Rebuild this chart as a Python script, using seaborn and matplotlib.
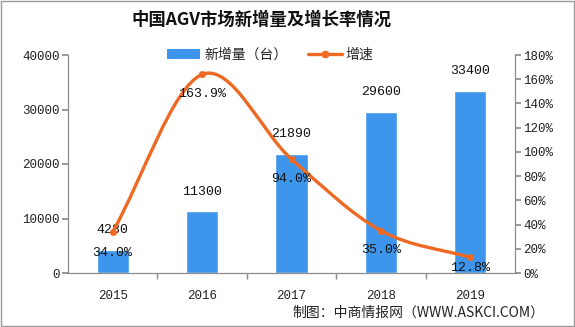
import matplotlib
matplotlib.use("Agg")
import matplotlib.pyplot as plt
import seaborn as sns
import pandas as pd
import numpy as np
from matplotlib.path import Path
from matplotlib.patches import PathPatch, Rectangle
from matplotlib.lines import Line2D
from matplotlib.ticker import FuncFormatter, MultipleLocator

years = ["2015", "2016", "2017", "2018", "2019"]
new_units = [4280, 11300, 21890, 29600, 33400]
growth = [34.0, 163.9, 94.0, 35.0, 12.8]
growth_labels = ["34.0%", "163.9%", "94.0%", "35.0%", "12.8%"]

BLUE = "#3D96EC"
ORANGE = "#EE6A24"
GRAY = "#8C8C8C"

sns.set_theme(style="white")
plt.rcParams["font.family"] = ["Noto Sans CJK SC", "DejaVu Sans"]

fig = plt.figure(figsize=(5.75, 3.27), dpi=100)
ax = fig.add_axes([68/575, 54/327, (515-68)/575, (273-55)/327])

df = pd.DataFrame({"year": years, "units": new_units, "growth": growth})
sns.barplot(data=df, x="year", y="units", color=BLUE, width=0.36,
            saturation=1, ax=ax, zorder=2)
ax.set_ylim(0, 40000)
ax.set_xlim(-0.5, 4.5)
ax.yaxis.set_major_locator(MultipleLocator(10000))
ax.set_xlabel("")
ax.set_ylabel("")

ax2 = ax.twinx()
ax2.set_ylim(0, 180)
ax2.yaxis.set_major_locator(MultipleLocator(20))
ax2.yaxis.set_major_formatter(FuncFormatter(lambda v, p: f"{int(v)}%"))

# smooth curve (cubic Bezier through the data points)
xs = np.arange(len(growth), dtype=float)
ys = np.array(growth, dtype=float)
n = len(xs)
tx = np.zeros(n); ty = np.zeros(n)
for i in range(n):
    a = max(i - 1, 0); b = min(i + 1, n - 1)
    tx[i] = (xs[b] - xs[a]) / (b - a)
    ty[i] = (ys[b] - ys[a]) / (b - a)
verts = [(xs[0], ys[0])]
codes = [Path.MOVETO]
for i in range(n - 1):
    verts += [(xs[i] + tx[i]/3, ys[i] + ty[i]/3),
              (xs[i+1] - tx[i+1]/3, ys[i+1] - ty[i+1]/3),
              (xs[i+1], ys[i+1])]
    codes += [Path.CURVE4] * 3
ax2.add_patch(PathPatch(Path(verts, codes), facecolor="none",
                        edgecolor=ORANGE, lw=2.4, zorder=3))
sns.scatterplot(x=xs, y=ys, ax=ax2, color=ORANGE, s=22, edgecolor=ORANGE,
                zorder=4, legend=False)
ax2.set_xlim(-0.5, 4.5)
ax2.set_ylabel("")

mono = ["Liberation Mono", "DejaVu Sans Mono"]
for i, v in enumerate(new_units):
    ax.annotate(str(v), (i, v), xytext=(0, 10), textcoords="offset points",
                ha="center", va="bottom", fontsize=9.5, color="#111111",
                family=mono, zorder=5)
offs = [-20, -19, -19, -19, -10]
for i, (v, lab) in enumerate(zip(growth, growth_labels)):
    ax2.annotate(lab, (i, v), xytext=(0, offs[i] * 0.75),
                 textcoords="offset points", ha="center", va="center",
                 fontsize=9.5, color="#111111", family=mono, zorder=5)

for a in (ax, ax2):
    for s in a.spines.values():
        s.set_color(GRAY)
        s.set_linewidth(0.9)
    a.spines["top"].set_visible(False)
ax.spines["right"].set_visible(False)
ax2.spines["left"].set_visible(False)
ax2.spines["bottom"].set_visible(False)

ax.tick_params(axis="y", which="both", left=True, length=4, color=GRAY,
               labelsize=9, labelcolor="#222222", pad=2)
ax2.tick_params(axis="y", right=True, length=4, color=GRAY,
                labelsize=9, labelcolor="#222222", pad=2)
ax.set_xticks(range(5))
ax.set_xticklabels(years)
ax.set_xticks([0.5, 1.5, 2.5, 3.5], minor=True)
ax.tick_params(axis="x", which="major", bottom=False, labelsize=9,
               labelcolor="#222222", pad=6)
ax.tick_params(axis="x", which="minor", bottom=True, length=4, color=GRAY)
for lab in ax.get_yticklabels() + ax2.get_yticklabels() + ax.get_xticklabels():
    lab.set_family(mono)

# legend
handles = [Rectangle((0, 0), 1, 1, facecolor=BLUE, edgecolor="none"),
           Line2D([0], [0], color=ORANGE, lw=2.4, marker="o", markersize=4.5)]
fig.legend(handles, ["新增量（台）", "增速"], loc="center",
           bbox_to_anchor=(270/575, 1 - 55/327), ncol=2, frameon=False,
           fontsize=10, handlelength=2.4, handleheight=0.7,
           columnspacing=1.5, handletextpad=0.3)

fig.text(262/575, 1 - 20/327, "中国AGV市场新增量及增长率情况", ha="center",
         va="center", fontsize=12.5, fontweight="bold", color="#111111")
fig.text(292/575, 1 - 313/327, "制图：中商情报网（WWW.ASKCI.COM）", ha="left",
         va="center", fontsize=10, color="#222222")

fig.add_artist(Rectangle((0.001, 0.002), 0.997, 0.995, transform=fig.transFigure,
                         fill=False, edgecolor="#9A9A9A", lw=1))

fig.savefig("out.png", dpi=100)
